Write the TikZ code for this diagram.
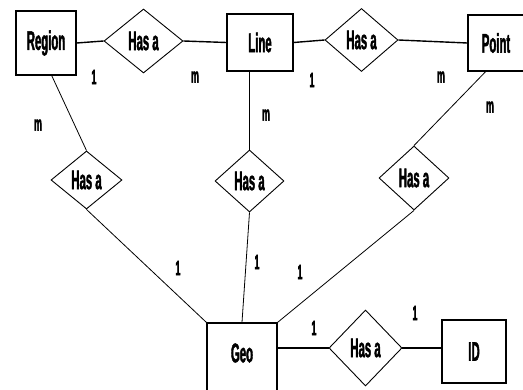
\documentclass[tikz,border=0pt]{standalone}
\usepackage{fontspec}
\setmainfont{Liberation Sans}[FakeStretch=0.42,BoldFeatures={FakeBold=1.5}]
\usetikzlibrary{shapes.geometric}

\tikzset{
	entity/.style={rectangle,draw,line width=1.4pt,inner sep=0pt},
	relation/.style={diamond,draw,line width=0.9pt,inner sep=1pt},
	bigtext/.style={font=\fontsize{27}{29}\selectfont\bfseries},
	cardtext/.style={font=\fontsize{21}{23}\selectfont\bfseries},
}

\begin{document}
\begin{tikzpicture}[x=1pt,y=-1pt]
	\useasboundingbox (0,0) rectangle (523,390);
	\clip (0,0) rectangle (523,390);
	% entities
	\begin{scope}[every node/.style={entity,bigtext}]
	\node[minimum width=60pt,minimum height=64pt] (Region) at (46,43) {Region};
	\node[minimum width=66pt,minimum height=57pt] (Line) at (260,42.5) {Line};
	\node[minimum width=56pt,minimum height=56pt] (Point) at (496,43) {Point};
	\node[minimum width=70pt,minimum height=72pt] (Geo) at (242,359) {};
	\node[minimum width=64pt,minimum height=63pt] (ID) at (474,351.5) {ID};
	\end{scope}
	\node[bigtext] (GeoName) at (242,353) {Geo};
	% relationships
	\begin{scope}[every node/.style={relation,bigtext}]
	\node[minimum width=79pt,minimum height=64pt] (HasRL) at (143.5,41) {Has a};
	\node[minimum width=73pt,minimum height=63pt] (HasLP) at (361.5,40) {Has a};
	\node[minimum width=71pt,minimum height=58pt] (HasRG) at (86.5,180) {Has a};
	\node[minimum width=69pt,minimum height=62pt] (HasLG) at (249.5,181) {Has a};
	\node[minimum width=70pt,minimum height=64pt] (HasPG) at (414,178) {Has a};
	\node[minimum width=73pt,minimum height=76pt] (HasGI) at (365.5,348) {Has a};
	\end{scope}
	% connectors
	\draw [line width=1.4pt] (Region.east) -- (HasRL.west);
	\draw [line width=1.4pt] (HasRL.east) -- (Line.west);
	\draw [line width=1.4pt] (Line.east) -- (HasLP.west);
	\draw [line width=1.4pt] (HasLP.east) -- (Point.west);
	\draw [line width=0.8pt] (Region.280) -- (HasRG.north);
	\draw [line width=0.8pt] (HasRG.south) -- (Geo.north west);
	\draw [line width=0.8pt] (Line.south -| HasLG.north) -- (HasLG.north);
	\draw [line width=0.8pt] (HasLG.south) -- (Geo.north);
	\draw [line width=0.8pt] (Point.250) -- (HasPG.north);
	\draw [line width=0.8pt] (HasPG.south) -- (Geo.north east);
	\draw [line width=1.4pt] (Geo.east |- HasGI.west) -- (HasGI.west);
	\draw [line width=1.4pt] (HasGI.east) -- (HasGI.east -| ID.west);
	% cardinalities
	\begin{scope}[every node/.style={cardtext}]
	\node (c1) at (94,77) {1};
	\node (c2) at (195,77) {m};
	\node (c3) at (312,80) {1};
	\node (c4) at (441,77) {m};
	\node (c5) at (38,125) {m};
	\node (c6) at (266,115) {m};
	\node (c7) at (490,107) {m};
	\node (c8) at (178,268) {1};
	\node (c9) at (257,262) {1};
	\node (c10) at (300,272) {1};
	\node (c11) at (314,328) {1};
	\node (c12) at (415,313) {1};
	\end{scope}
\end{tikzpicture}
\end{document}
